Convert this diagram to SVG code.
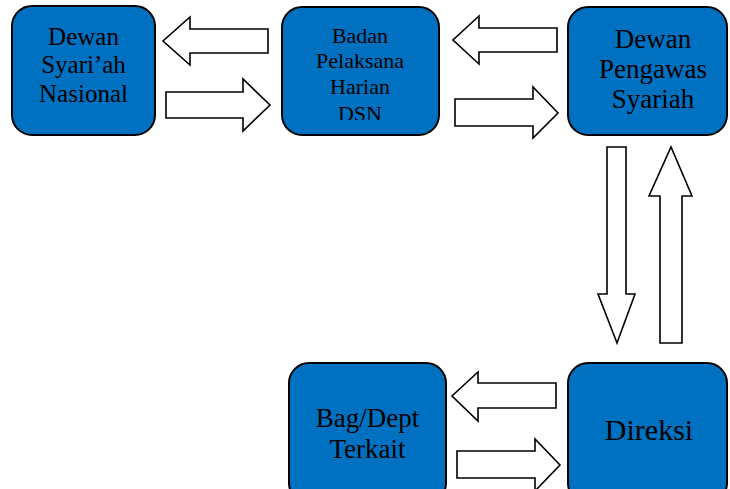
<svg xmlns="http://www.w3.org/2000/svg" width="730" height="489" viewBox="0 0 730 489">
<style>
.box{fill:#0070C0;stroke:#000;stroke-width:2}
.arr{fill:#fff;stroke:#000;stroke-width:1.6;stroke-linejoin:miter}
text{font-family:"Liberation Serif","Times New Roman",serif;fill:#000;text-anchor:middle}
</style>
<defs>
<clipPath id="clipDSN"><rect x="282" y="0" width="157" height="120"/></clipPath>
</defs>
<rect width="730" height="489" fill="#fff"/>
<g id="dsn">
<rect class="box" x="12" y="6" width="143" height="129" rx="20"/>
<text font-size="25" x="83.5" y="45">Dewan</text>
<text font-size="25" x="83.5" y="73">Syari’ah</text>
<text font-size="25" x="83.5" y="102">Nasional</text>
</g>
<g id="bph">
<rect class="box" x="282" y="7" width="157" height="128" rx="20"/>
<text x="360" y="43" font-size="22">Badan</text>
<text x="360" y="68" font-size="22">Pelaksana</text>
<text x="360" y="94" font-size="22">Harian</text>
<text x="360" y="121" font-size="22" clip-path="url(#clipDSN)">DSN</text>
</g>
<g id="dps">
<rect class="box" x="568" y="7" width="159" height="128" rx="20"/>
<text font-size="27" x="653" y="48">Dewan</text>
<text font-size="27" x="653" y="78">Pengawas</text>
<text font-size="27" x="653" y="108">Syariah</text>
</g>
<g id="bag">
<rect class="box" x="289" y="363" width="157" height="140" rx="20"/>
<text font-size="27" x="367.5" y="427">Bag/Dept</text>
<text font-size="27" x="367.5" y="458">Terkait</text>
</g>
<g id="direksi">
<rect class="box" x="568" y="363" width="159" height="140" rx="20"/>
<text font-size="30" x="649" y="440">Direksi</text>
</g>
<g id="connectors">
<polygon class="arr" points="268,29 190,29 190,17 163,41 190,65 190,53 268,53"/>
<polygon class="arr" points="166,92 243,92 243,79 270,105 243,131 243,118 166,118"/>
<polygon class="arr" points="557,28 479,28 479,16 453,40 479,64 479,52 557,52"/>
<polygon class="arr" points="455,99 533,99 533,87 558,113 533,138 533,126 455,126"/>
<polygon class="arr" points="607,147 626,147 626,294 635,294 617,343 598,294 607,294"/>
<polygon class="arr" points="660,343 682,343 682,196 692,196 671,147 649,196 660,196"/>
<polygon class="arr" points="556,383 478,383 478,372 452,396 478,421 478,408 556,408"/>
<polygon class="arr" points="457,451 535,451 535,439 560,465 535,491 535,478 457,478"/>
</g>
</svg>
